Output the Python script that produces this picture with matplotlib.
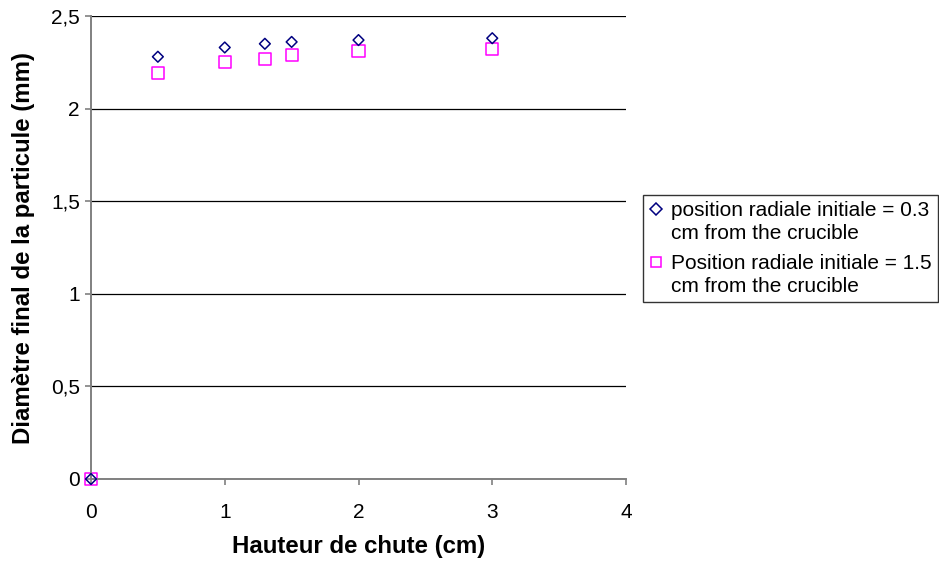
import matplotlib
matplotlib.use("Agg")
import matplotlib.pyplot as plt
from matplotlib.ticker import FuncFormatter
from matplotlib.lines import Line2D

plt.rcParams['font.family'] = ['Liberation Sans', 'DejaVu Sans']

x1 = [0, 0.5, 1, 1.3, 1.5, 2, 3]
y1 = [0, 2.28, 2.33, 2.35, 2.36, 2.37, 2.38]
x2 = [0, 0.5, 1, 1.3, 1.5, 2, 3]
y2 = [0, 2.19, 2.25, 2.27, 2.29, 2.31, 2.32]
label1 = "position radiale initiale = 0.3\ncm from the crucible"
label2 = "Position radiale initiale = 1.5\ncm from the crucible"
xlabel = "Hauteur de chute (cm)"
ylabel = "Diamètre final de la particule (mm)"

C1 = '#000080'
C2 = '#FF00FF'


class FirstLineHandler:
    def __init__(self, marker, color, ms, dy):
        self.marker, self.color, self.ms, self.dy = marker, color, ms, dy

    def legend_artist(self, legend, orig_handle, fontsize, handlebox):
        x0, y0 = handlebox.xdescent, handlebox.ydescent
        w, h = handlebox.width, handlebox.height
        ln = Line2D([w / 2 - x0], [h / 2 - y0 + self.dy], marker=self.marker, ls='none',
                    mfc='none', mec=self.color, ms=self.ms, mew=1.1,
                    transform=handlebox.get_transform())
        handlebox.add_artist(ln)
        return ln


W, H = 939, 565
fig = plt.figure(figsize=(W/100, H/100), dpi=100)
ax = fig.add_axes([91/W, 1-479/H, (626-91)/W, (479-16)/H])

h1 = ax.scatter(x1, y1, marker='D', s=30, facecolors='none', edgecolors=C1, linewidths=1.1,
                label=label1, zorder=3, clip_on=False)
h2 = ax.scatter(x2, y2, marker='s', s=75, facecolors='none', edgecolors=C2, linewidths=1.1,
                label=label2, zorder=2, clip_on=False)

ax.set_xlim(0, 4)
ax.set_ylim(0, 2.5)
ax.set_xticks([0, 1, 2, 3, 4])
ax.set_yticks([0, 0.5, 1, 1.5, 2, 2.5])
ax.yaxis.set_major_formatter(FuncFormatter(lambda v, p: ('%g' % v).replace('.', ',')))
ax.grid(axis='y', color='black', linewidth=0.9)
ax.set_axisbelow(True)
for s in ['right', 'top']:
    ax.spines[s].set_visible(False)
for s in ['left', 'bottom']:
    ax.spines[s].set_color('#808080')
    ax.spines[s].set_linewidth(1.4)
ax.tick_params(axis='both', direction='out', length=4, width=1.2, color='#808080', labelsize=15)
ax.tick_params(axis='y', pad=4)
ax.tick_params(axis='x', pad=13)

ax.set_xlabel(xlabel, fontsize=17.3, fontweight='bold')
ax.set_ylabel(ylabel, fontsize=17.3, fontweight='bold')
ax.xaxis.label.set_va('center')
ax.yaxis.label.set_va('center')
ax.xaxis.set_label_coords(0.5, (479-547)/463)
ax.yaxis.set_label_coords((24-91)/535, 0.5)

leg = fig.legend(handles=[h1, h2], labels=[label1, label2],
                 handler_map={h1: FirstLineHandler('D', C1, 6.0, 9.5),
                              h2: FirstLineHandler('s', C2, 6.5, 9.5)},
                 loc='upper left', bbox_to_anchor=(643/W, 1-195/H), fontsize=15,
                 frameon=True, fancybox=False, edgecolor='black', handletextpad=0.4,
                 handlelength=0.65, borderpad=0.3, labelspacing=0.55, borderaxespad=0)
leg.get_frame().set_linewidth(1.0)
for t in leg.get_texts():
    t.set_linespacing(1.24)

fig.savefig("out.png", dpi=100)
